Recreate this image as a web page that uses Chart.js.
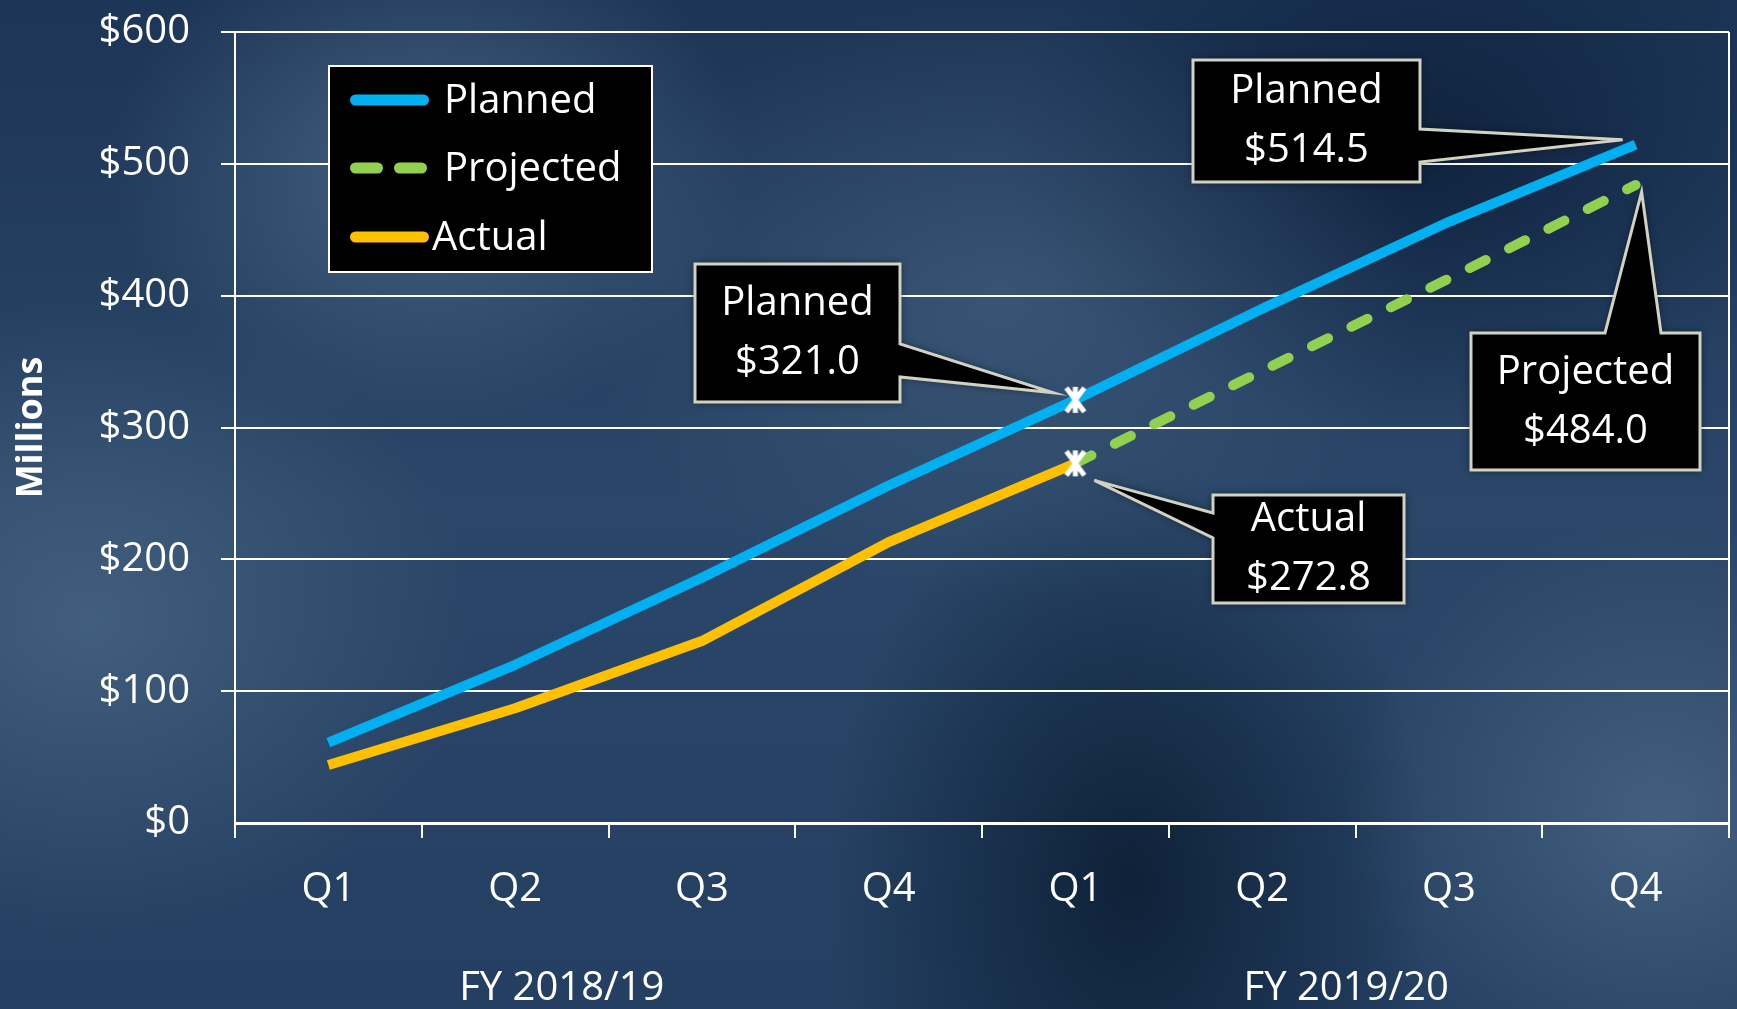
<!DOCTYPE html>
<html>
<head>
<meta charset="utf-8">
<script src="https://cdn.jsdelivr.net/npm/chart.js@4"></script>
<style>
html, body { margin: 0; padding: 0; }
body {
    width: 1737px; height: 1009px; overflow: hidden;
    background:
        radial-gradient(ellipse 320px 260px at 430px 170px, rgba(95,125,155,0.55), transparent),
        radial-gradient(ellipse 380px 320px at 90px 620px, rgba(85,115,145,0.55), transparent),
        radial-gradient(ellipse 420px 300px at 1000px 300px, rgba(80,108,138,0.45), transparent),
        radial-gradient(ellipse 300px 420px at 1130px 880px, rgba(6,22,42,0.75), transparent),
        radial-gradient(ellipse 420px 280px at 1420px 150px, rgba(6,22,46,0.65), transparent),
        radial-gradient(ellipse 320px 300px at 1660px 820px, rgba(95,125,155,0.5), transparent),
        linear-gradient(180deg, #1d3557 0%, #2a4668 50%, #243f61 100%);
}
canvas { display: block; }
</style>
</head>
<body>
<canvas id="chart" width="1737" height="1009"></canvas>
<script>
// quarters on the x axis, fiscal years printed beneath them
const QUARTERS = ["Q1", "Q2", "Q3", "Q4", "Q1", "Q2", "Q3", "Q4"];
const FISCAL_YEARS = ["FY 2018/19", "FY 2019/20"];
// $ millions, cumulative
const PLANNED = [61, 120, 186, 256, 321.0, 390, 456, 514.5];
const PROJECTED = [null, null, null, null, 272.8, 343, 413, 484.0];
const ACTUAL = [44, 87, 138, 213, 272.8, null, null, null];
const Y_TICKS = [0, 100, 200, 300, 400, 500, 600];

const WHITE = "#ffffff";
const FONT = "'Open Sans', 'DejaVu Sans', sans-serif";
Chart.defaults.font.family = FONT;
Chart.defaults.color = WHITE;

// white "x with a stem" marker used on the current quarter
const marker = document.createElement("canvas");
marker.width = 24; marker.height = 30;
(function () {
    const m = marker.getContext("2d");
    m.strokeStyle = WHITE;
    m.lineWidth = 5;
    m.lineCap = "butt";
    m.beginPath();
    m.moveTo(3, 3); m.lineTo(21, 27);
    m.moveTo(21, 3); m.lineTo(3, 27);
    m.moveTo(12, 2); m.lineTo(12, 28);
    m.stroke();
})();
const markAt = (idx) => (ctx) => ctx.dataIndex === idx ? 14 : 0;

// black call-out boxes; box = [left, top, right, bottom], tip is offset from the data point
const CALLOUTS = [
    { ds: 0, i: 4, box: [695, 264, 900, 402], edge: "right", base: [344, 377], tip: [-22, -7] },
    { ds: 2, i: 4, box: [1213, 495, 1404, 603], edge: "left", base: [513, 538], tip: [19, 17] },
    { ds: 0, i: 7, box: [1193, 60, 1420, 182], edge: "right", base: [129, 162], tip: [-13, -5] },
    { ds: 1, i: 7, box: [1471, 333, 1700, 470], edge: "top", base: [1605, 1661], tip: [6, 7] },
];

function calloutPath(ctx, b, edge, base, tx, ty) {
    const [l, t, r, bt] = b;
    ctx.beginPath();
    ctx.moveTo(l, t);
    if (edge === "top") { ctx.lineTo(base[0], t); ctx.lineTo(tx, ty); ctx.lineTo(base[1], t); }
    ctx.lineTo(r, t);
    if (edge === "right") { ctx.lineTo(r, base[0]); ctx.lineTo(tx, ty); ctx.lineTo(r, base[1]); }
    ctx.lineTo(r, bt);
    ctx.lineTo(l, bt);
    if (edge === "left") { ctx.lineTo(l, base[1]); ctx.lineTo(tx, ty); ctx.lineTo(l, base[0]); }
    ctx.closePath();
}

const overlay = {
    id: "overlay",
    afterDatasetsDraw(chart) {
        const ctx = chart.ctx;
        const { x, y } = chart.scales;
        const area = chart.chartArea;

        // right frame line
        ctx.save();
        ctx.strokeStyle = WHITE;
        ctx.lineWidth = 2;
        ctx.beginPath();
        ctx.moveTo(area.right, area.top);
        ctx.lineTo(area.right, area.bottom + 15);
        ctx.stroke();
        ctx.restore();

        // call-outs
        for (const c of CALLOUTS) {
            const ds = chart.data.datasets[c.ds];
            const v = ds.data[c.i];
            const px = x.getPixelForValue(c.i);
            const py = y.getPixelForValue(v);
            ctx.save();
            calloutPath(ctx, c.box, c.edge, c.base, px + c.tip[0], py + c.tip[1]);
            ctx.shadowColor = "rgba(0,0,0,0.55)";
            ctx.shadowBlur = 8;
            ctx.fillStyle = "#000000";
            ctx.fill();
            ctx.shadowBlur = 0;
            ctx.lineJoin = "miter";
            ctx.strokeStyle = "#d2d2c2";
            ctx.lineWidth = 3;
            ctx.stroke();
            const cx = (c.box[0] + c.box[2]) / 2;
            const cy = (c.box[1] + c.box[3]) / 2;
            ctx.fillStyle = WHITE;
            ctx.font = "40px " + FONT;
            ctx.textAlign = "center";
            ctx.textBaseline = "middle";
            ctx.fillText(ds.label, cx, cy - 29);
            ctx.fillText("$" + v.toFixed(1), cx, cy + 30);
            ctx.restore();
        }

        // legend box
        ctx.save();
        ctx.fillStyle = "#000000";
        ctx.fillRect(329, 66, 323, 206);
        ctx.strokeStyle = WHITE;
        ctx.lineWidth = 2;
        ctx.strokeRect(329, 66, 323, 206);
        const rows = [100, 168, 237];
        const textX = [444, 444, 432];
        chart.data.datasets.forEach((ds, k) => {
            ctx.strokeStyle = ds.borderColor;
            ctx.lineWidth = 11;
            ctx.lineCap = "round";
            ctx.setLineDash(ds.borderDash && ds.borderDash.length ? [22, 22] : []);
            ctx.beginPath();
            ctx.moveTo(355.5, rows[k]);
            ctx.lineTo(423.5, rows[k]);
            ctx.stroke();
            ctx.setLineDash([]);
            ctx.fillStyle = WHITE;
            ctx.font = "40px " + FONT;
            ctx.textAlign = "left";
            ctx.textBaseline = "middle";
            ctx.fillText(ds.label, textX[k], rows[k] + 2);
        });
        ctx.restore();

        // fiscal year labels under the quarter groups
        ctx.save();
        ctx.fillStyle = WHITE;
        ctx.font = "40px " + FONT;
        ctx.textAlign = "center";
        ctx.textBaseline = "middle";
        const groupAt = [1.25, 5.45];
        FISCAL_YEARS.forEach((t, k) => {
            ctx.fillText(t, x.getPixelForValue(groupAt[k]), area.bottom + 166);
        });
        ctx.restore();
    },
};

new Chart(document.getElementById("chart"), {
    type: "line",
    data: {
        labels: QUARTERS,
        datasets: [
            {
                label: "Planned", data: PLANNED, borderColor: "#00b0f0", borderWidth: 10,
                pointStyle: marker, pointRadius: markAt(4), order: 0,
            },
            {
                label: "Projected", data: PROJECTED, borderColor: "#92d050", borderWidth: 10,
                borderDash: [18, 26], borderCapStyle: "round", pointRadius: 0, order: 2,
            },
            {
                label: "Actual", data: ACTUAL, borderColor: "#ffc000", borderWidth: 10,
                pointStyle: marker, pointRadius: markAt(4), order: -1,
            },
        ],
    },
    options: {
        responsive: false,
        animation: false,
        layout: { padding: { top: 32, right: 8, bottom: 0, left: 0 } },
        plugins: { legend: { display: false }, tooltip: { enabled: false } },
        elements: { line: { tension: 0, borderJoinStyle: "round" } },
        scales: {
            x: {
                offset: true,
                grid: { offset: true, drawOnChartArea: false, color: WHITE, lineWidth: 2, tickLength: 15 },
                border: { color: WHITE, width: 3 },
                ticks: { font: { size: 40 }, color: WHITE, padding: 28, maxRotation: 0, autoSkip: false },
                afterFit(s) { s.height = 186; s.paddingLeft = 0; s.paddingRight = 0; },
            },
            y: {
                min: Y_TICKS[0], max: Y_TICKS[Y_TICKS.length - 1],
                afterBuildTicks(s) { s.ticks = Y_TICKS.map(v => ({ value: v })); },
                grid: {
                    color: WHITE, lineWidth: (c) => c.tick && c.tick.value === 0 ? 0 : 2, tickLength: 14,
                },
                border: { color: WHITE, width: 2 },
                ticks: { font: { size: 40 }, color: WHITE, padding: 31, callback: (v) => "$" + v },
                title: {
                    display: true, text: "Millions", color: WHITE,
                    font: { size: 36, weight: "bold" }, padding: { top: 10, bottom: 0 },
                },
                afterFit(s) { s.width = 235; s.paddingTop = 0; s.paddingBottom = 0; },
            },
        },
    },
    plugins: [overlay],
});
</script>
</body>
</html>
